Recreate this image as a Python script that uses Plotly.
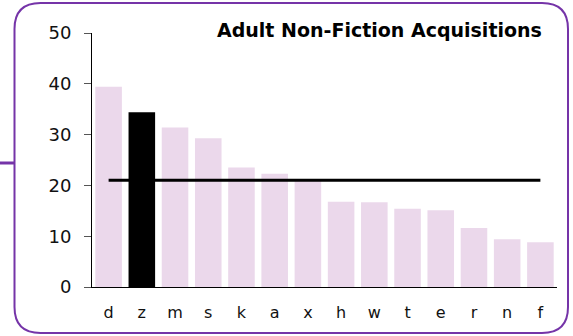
import plotly.graph_objects as go

# Branch codes and their acquisition shares
branches = ["d", "z", "m", "s", "k", "a", "x", "h", "w", "t", "e", "r", "n", "f"]
acquisitions = [39.4, 34.4, 31.4, 29.3, 23.5, 22.3, 20.9, 16.8, 16.7, 15.4, 15.1, 11.6, 9.4, 8.8]
highlight = "z"
system_average = 21

W, H = 573, 336
ML, MR, MT, MB = 92, 16, 33, 49
PW, PH = W - ML - MR, H - MT - MB

BAR = "#EBD8EB"
PURPLE = "#7534A8"

bar_colors = ["#000000" if b == highlight else BAR for b in branches]


def px(x):
    return (x - ML) / PW


def py(y):
    return (H - MB - y) / PH


fig = go.Figure()
fig.add_trace(go.Bar(
    x=branches, y=acquisitions, marker=dict(color=bar_colors, line=dict(width=0)),
    width=0.8, hoverinfo="x+y",
))
fig.add_trace(go.Scatter(
    x=branches, y=[system_average] * len(branches), mode="lines",
    line=dict(color="#000000", width=3), hoverinfo="y",
))

# rounded frame around the chart
x0, x1, y0, y1, r = px(14.5), px(568), py(3), py(333), 26
rx, ry = r / PW, r / PH
frame = (
    f"M {x0 + rx},{y0} L {x1 - rx},{y0} Q {x1},{y0} {x1},{y0 - ry} "
    f"L {x1},{y1 + ry} Q {x1},{y1} {x1 - rx},{y1} "
    f"L {x0 + rx},{y1} Q {x0},{y1} {x0},{y1 + ry} "
    f"L {x0},{y0 - ry} Q {x0},{y0} {x0 + rx},{y0} Z"
)
shapes = [
    dict(type="path", xref="paper", yref="paper", path=frame,
         line=dict(color=PURPLE, width=2), layer="below"),
    dict(type="line", xref="paper", yref="paper", x0=px(0), x1=px(14), y0=py(163), y1=py(163),
         line=dict(color=PURPLE, width=3)),
]

fig.update_layout(
    width=W, height=H, margin=dict(l=ML, r=MR, t=MT, b=MB),
    paper_bgcolor="white", plot_bgcolor="white", showlegend=False,
    bargap=0.2, shapes=shapes,
    font=dict(family="DejaVu Sans", color="#111111"),
    annotations=[dict(
        text="<b>Adult Non-Fiction Acquisitions</b>", xref="paper", yref="paper",
        x=px(544), y=py(30), xanchor="right", yanchor="middle", showarrow=False,
        font=dict(size=19, color="#000000"),
    )],
    xaxis=dict(
        range=[-0.5, len(branches) - 0.5], showline=True, linecolor="#000000", linewidth=1,
        ticks="", showgrid=False, tickfont=dict(size=16), ticklabelstandoff=11,
    ),
    yaxis=dict(
        range=[0, 50], dtick=10, showline=True, linecolor="#000000", linewidth=1,
        ticks="outside", ticklen=7, tickcolor="#555555", showgrid=False, zeroline=False,
        tickfont=dict(size=18), ticklabelstandoff=9,
    ),
)

fig.write_html("out.html")
